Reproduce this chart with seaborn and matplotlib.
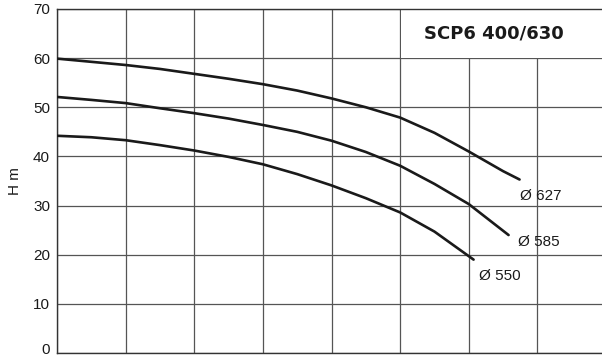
import numpy as np
import pandas as pd
import matplotlib
matplotlib.use("Agg")
import matplotlib.pyplot as plt
import matplotlib.transforms as mtransforms
from matplotlib.patches import Rectangle
import seaborn as sns

# flow positions in grid units (no x scale printed on the sheet)
q_627 = [0, 0.5, 1, 1.5, 2, 2.5, 3, 3.5, 4, 4.5, 5, 5.5, 6, 6.5, 6.74]
h_627 = [59.9, 59.25, 58.6, 57.8, 56.8, 55.8, 54.7, 53.4, 51.8, 50.0, 47.9, 44.8, 41.0, 37.0, 35.3]

q_585 = [0, 0.5, 1, 1.5, 2, 2.5, 3, 3.5, 4, 4.5, 5, 5.5, 6, 6.58]
h_585 = [52.1, 51.5, 50.85, 49.8, 48.8, 47.7, 46.4, 45.0, 43.2, 40.9, 38.1, 34.4, 30.3, 24.0]

q_550 = [0, 0.5, 1, 1.5, 2, 2.5, 3, 3.5, 4, 4.5, 5, 5.5, 6.07]
h_550 = [44.2, 43.9, 43.3, 42.3, 41.2, 39.9, 38.4, 36.4, 34.1, 31.5, 28.6, 24.7, 19.0]

curve_names = ["Ø 627", "Ø 585", "Ø 550"]
y_ticks = [0, 10, 20, 30, 40, 50, 60, 70]
x_grid = [0, 1, 2, 3, 4, 5, 6, 7, 8]
title = "SCP6 400/630"

df = pd.concat([
    pd.DataFrame({"Q": q_627, "H": h_627, "d": curve_names[0]}),
    pd.DataFrame({"Q": q_585, "H": h_585, "d": curve_names[1]}),
    pd.DataFrame({"Q": q_550, "H": h_550, "d": curve_names[2]}),
])

sns.set_style("white")
plt.rcParams["font.family"] = ["Liberation Sans", "DejaVu Sans"]

fig = plt.figure(figsize=(6.02, 3.58), dpi=100)
ax = fig.add_axes([0.0947, 0.0140, 0.912, 0.9609])

sns.lineplot(data=df, x="Q", y="H", hue="d", sort=False, estimator=None,
             palette=["#1a1a1a"] * 3, linewidth=1.9, legend=False, ax=ax, zorder=3)

ax.set_xlim(0, 8)
ax.set_ylim(0, 70)
ax.set_xticks(x_grid)
ax.set_xticklabels([])
ax.set_yticks(y_ticks)
ax.tick_params(axis="both", length=0, labelsize=11, colors="#1a1a1a", pad=5)
ax.grid(True, color="#555555", linewidth=0.9)
ax.set_axisbelow(True)
ax.set_xlabel("")
ax.set_ylabel("H m", fontsize=11, color="#1a1a1a", labelpad=8)

# lift the "0" label a little so it stays inside the picture
lbl0 = ax.get_yticklabels()[0]
lbl0.set_transform(lbl0.get_transform() + mtransforms.ScaledTranslation(0, 3 / 72, fig.dpi_scale_trans))

for side in ["left", "top", "bottom", "right"]:
    ax.spines[side].set_color("#333333")
    ax.spines[side].set_linewidth(1.0)

# white box for the model name, hiding the grid in the top right band
ax.add_patch(Rectangle((5.015, 60.1), 3.2, 9.8, facecolor="white",
                       edgecolor="none", zorder=1, clip_on=True))
ax.text(6.36, 65.0, title, ha="center", va="center", fontsize=13,
        fontweight="bold", family="DejaVu Sans", color="#1a1a1a", zorder=4)

# diameter labels next to the curve ends
label_pos = [(6.75, 31.9), (6.71, 22.5), (6.15, 15.6)]
for name, (lx, ly) in zip(curve_names, label_pos):
    ax.text(lx, ly, name, ha="left", va="center", fontsize=11, color="#1a1a1a", zorder=4)

fig.savefig("out.png", dpi=100)
